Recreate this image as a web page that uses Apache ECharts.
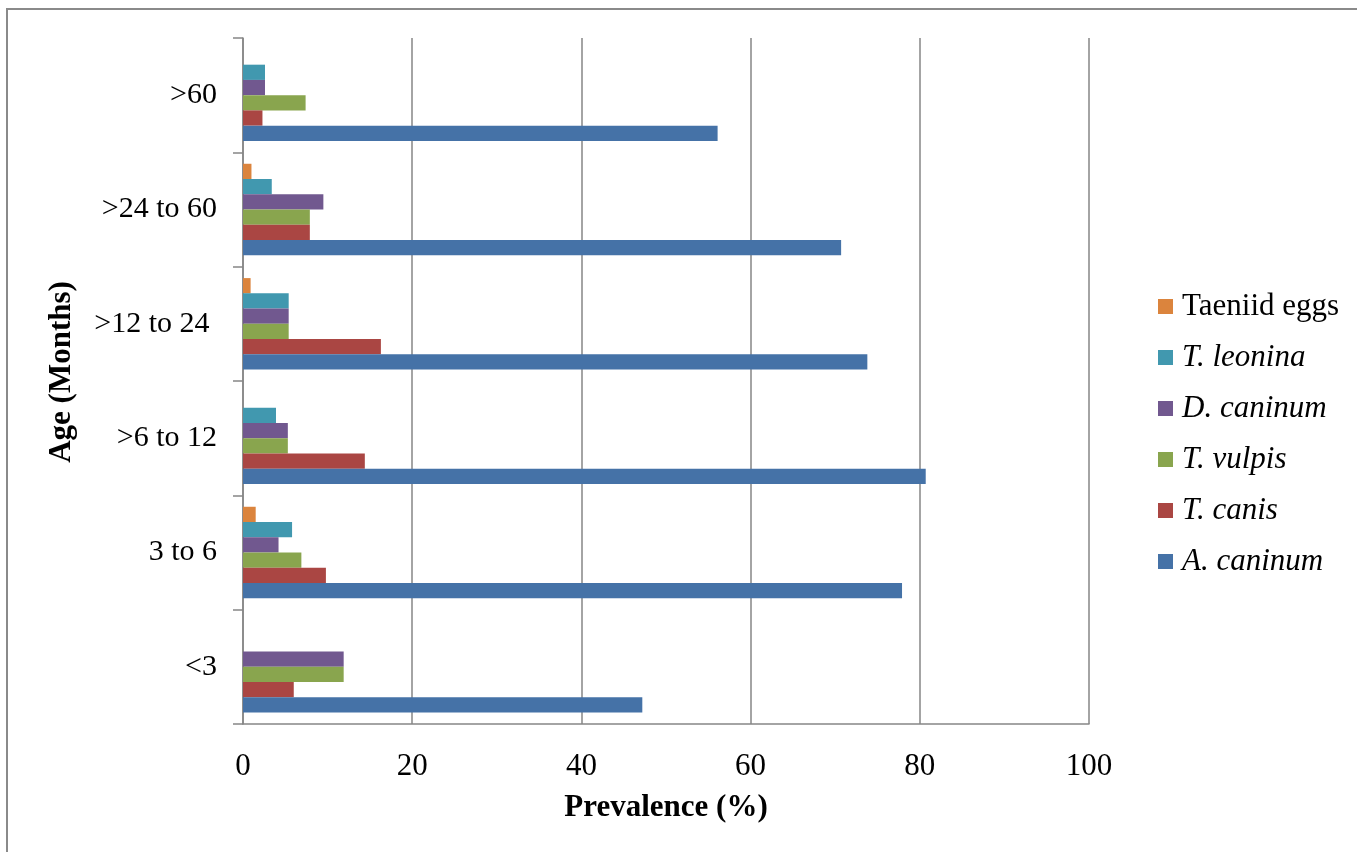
<!DOCTYPE html>
<html>
<head>
<meta charset="utf-8">
<script src="https://cdn.jsdelivr.net/npm/echarts@6/dist/echarts.min.js"></script>
<style>
html,body{margin:0;padding:0;background:#fff;}
#c{width:1357px;height:852px;}
</style>
</head>
<body>
<div id="c"></div>
<script>
const categories = ['<3', '3 to 6', '>6 to 12', '>12 to 24 ', '>24 to 60', '>60'];
const seriesNames = ['A. caninum', 'T. canis', 'T. vulpis', 'D. caninum', 'T. leonina', 'Taeniid eggs'];
const aCaninum   = [47.2, 77.9, 80.7, 73.8, 70.7, 56.1];
const tCanis     = [6.0, 9.8, 14.4, 16.3, 7.9, 2.3];
const tVulpis    = [11.9, 6.9, 5.3, 5.4, 7.9, 7.4];
const dCaninum   = [11.9, 4.2, 5.3, 5.4, 9.5, 2.6];
const tLeonina   = [0, 5.8, 3.9, 5.4, 3.4, 2.6];
const taeniid    = [0, 1.5, 0, 0.9, 1.0, 0];
const xTicks = [0, 20, 40, 60, 80, 100];
const colors = ['#4572A7', '#AA4643', '#89A54E', '#71588F', '#4198AF', '#DB843D'];
const values = [aCaninum, tCanis, tVulpis, dCaninum, tLeonina, taeniid];

const font = 'Liberation Serif, Times New Roman, serif';
const chart = echarts.init(document.getElementById('c'));
// ECharts stacks the first series at the top of each horizontal group,
// so feed them in reverse to put A. caninum at the bottom (as in the reference).
const series = seriesNames.map((n, i) => ({
  name: n, type: 'bar', data: values[i],
  itemStyle: {color: colors[i]},
  barGap: 0, barCategoryGap: '20%'
})).reverse();
chart.setOption({
  animation: false,
  graphic: [{type: 'rect', shape: {x: 7, y: 9, width: 1400, height: 900}, style: {fill: 'none', stroke: '#8a8a8a', lineWidth: 2}}],
  grid: {left: 243, right: 268, top: 38, bottom: 128},
  legend: {
    orient: 'vertical', left: 1153, top: 286, itemWidth: 15, itemHeight: 15, itemGap: 20,
    icon: 'rect',
    data: seriesNames.slice().reverse().map(n => ({name: n, textStyle: {fontStyle: n === 'Taeniid eggs' ? 'normal' : 'italic'}})),
    textStyle: {fontFamily: font, fontSize: 31, lineHeight: 31, color: '#000', padding: [0, 0, 0, 4]}
  },
  xAxis: {
    type: 'value', min: 0, max: 100, interval: 20,
    name: 'Prevalence (%)', nameLocation: 'middle', nameGap: 68,
    nameTextStyle: {fontFamily: font, fontSize: 31, fontWeight: 'bold', color: '#000'},
    axisLine: {show: true, lineStyle: {color: '#868686', width: 1.5}},
    axisTick: {show: false},
    splitLine: {show: true, lineStyle: {color: '#868686', width: 1.5}},
    axisLabel: {fontFamily: font, fontSize: 31, color: '#000', margin: 27,
      formatter: v => xTicks.includes(v) ? String(v) : ''}
  },
  yAxis: {
    type: 'category', data: categories,
    name: 'Age (Months)', nameLocation: 'middle', nameGap: 166, nameRotate: 90,
    nameTextStyle: {fontFamily: font, fontSize: 31, fontWeight: 'bold', color: '#000', padding: [0, 0, 0, 18]},
    axisLine: {show: true, lineStyle: {color: '#868686', width: 1.5}},
    axisTick: {show: true, length: 10, lineStyle: {color: '#868686', width: 1.5}},
    axisLabel: {fontFamily: font, fontSize: 30, color: '#000', margin: 26}
  },
  series: series
});
</script>
</body>
</html>
